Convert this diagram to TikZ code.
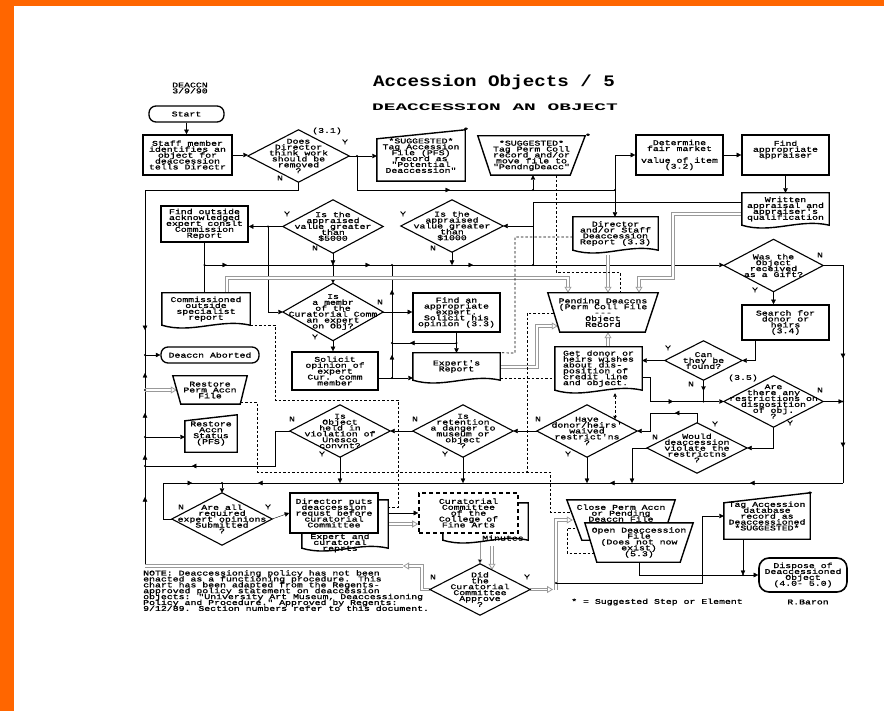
\documentclass[tikz,border=0pt]{standalone}
\usepackage{fontspec}
\usetikzlibrary{arrows.meta,calc,decorations.markings}
\newfontfamily\monotf[FakeStretch=1.35,FakeBold=1.2,Ligatures=TeXOff]{Liberation Mono}
\newfontfamily\monotitle[FakeStretch=1.2,Ligatures=TeXOff]{Liberation Mono}
\newfontfamily\monosub[FakeStretch=1.95,Ligatures=TeXOff]{Liberation Mono}
\newcommand\tfs{\monotf\fontsize{7.3}{5.9}\selectfont\lineskiplimit=-20pt\lineskip=0pt}
\newcommand\titlefs{\monotitle\bfseries\fontsize{16}{16}\selectfont}
\newcommand\subfs{\monosub\bfseries\fontsize{10}{10}\selectfont}
\definecolor{org}{HTML}{FF6600}
\pgfdeclarelayer{back}
\pgfdeclarelayer{bg}
\pgfsetlayers{back,bg,main}
\newcommand\drawdia[1]{\draw[shp] (#1.north) -- (#1.east) -- (#1.south) -- (#1.west) -- cycle;}
\newcommand\drawdoc[1]{\draw[thk] (#1.south west) -- (#1.north west) -- (#1.north east) -- (#1.south east) .. controls +(-30,-7) and +(30,9) .. (#1.south west) -- cycle;}
\newcommand\drawtrap[3]{\draw[thk] (#1.north west) -- (#1.north east) -- ($(#1.south east)+(-#2,0)$) -- ($(#1.south west)+(#3,0)$) -- cycle;}
\newcommand\drawslope[2]{\draw[thk] (#1.south west) -- ($(#1.north west)+(0,#2)$) -- (#1.north east) -- (#1.south east) -- cycle;}
\tikzset{
 txt/.style={font=\tfs, align=center, inner sep=0pt},
 lbl/.style={font=\tfs, inner sep=0pt},
 box/.style={txt, draw, line width=1.6pt, fill=white},
 term/.style={txt, draw, line width=1.3pt, rounded corners=7pt, fill=white},
 shp/.style={draw, line width=1.1pt, fill=white},
 thk/.style={draw, line width=1.4pt, fill=white},
 arr/.style={-{Triangle[length=4.5pt,width=4.5pt]}},
 marr/.style={postaction={decorate,decoration={markings,mark=at position #1 with {\arrow{Triangle[length=4.5pt,width=4.5pt]}}}}},
 dbl/.style={draw=gray!80, line width=0.8pt, double=white, double distance=1.5pt, -{Triangle[open,length=6pt,width=7pt]}},
 dbln/.style={draw=gray!80, line width=0.8pt, double=white, double distance=1.5pt},
 dsh/.style={line width=0.7pt, dash pattern=on 2.5pt off 2pt},
}
\begin{document}
\begin{tikzpicture}[x=1pt,y=-1pt,line width=0.8pt]
\useasboundingbox (0,0) rectangle (884,711);
\begin{pgfonlayer}{back}
 \fill[white] (0,0) rectangle (884,711);
 \fill[org] (0,0) rectangle (884,6);
 \fill[org] (0,0) rectangle (14,711);
\end{pgfonlayer}

% ---------- titles ----------
\node[txt] (deaccn) at (190,88) {DEACCN\\3/9/90};
\node[font=\titlefs,inner sep=0pt,anchor=base] (title) at (494,87) {Accession Objects / 5};
\node[font=\subfs,inner sep=0pt,anchor=base] (subtitle) at (495,111) {DEACCESSION AN OBJECT};

% ---------- nodes ----------
\node[term, minimum width=75pt, minimum height=16pt] (start) at (186.5,114) {Start};
\node[box, minimum width=89pt, minimum height=40pt] (staff) at (187.5,155) {Staff member\\identifies an\\object for\\deaccession\\tells Directr};
\node[txt, minimum width=101pt, minimum height=52pt] (does) at (298.5,156) {Does\\Director\\think work\\should be\\removed\\?};
\node[txt, minimum width=88pt, minimum height=51pt] (sugA) at (421,155.5) {*SUGGESTED*\\Tag Accession\\File (PFS)\\record as\\"Potential\\Deaccession"};
\node[txt, minimum width=107pt, minimum height=39pt] (sugB) at (531.5,155.5) {*SUGGESTED*\\Tag Perm Coll\\record and/or\\move file to\\"PendngDeacc"};
\node[box, minimum width=87pt, minimum height=40pt] (determine) at (679.5,155) {Determine\\fair market\\[5.9pt]value of item\\(3.2)};
\node[box, minimum width=87pt, minimum height=40pt] (findappr) at (785.5,155) {Find\\appropriate\\appraiser\\[5.9pt]~};
\node[txt, minimum width=87pt, minimum height=32pt] (written) at (785.5,209) {Written\\appraisal and\\appraiser's\\qualification};
\node[txt, minimum width=85pt, minimum height=33pt] (dirrep) at (615.5,233.5) {Director\\and/or Staff\\Deaccession\\Report (3.3)};
\node[txt, minimum width=100pt, minimum height=53pt] (d5000) at (333,226.5) {Is the\\appraised\\value greater\\than\\\$5000};
\node[txt, minimum width=102pt, minimum height=52pt] (d1000) at (452,226) {Is the\\appraised\\value greater\\than\\\$1000};
\node[box, minimum width=87pt, minimum height=36pt] (findout) at (204.5,224) {Find outside\\acknowledged\\expert conslt\\Commission\\Report};
\node[txt, minimum width=99pt, minimum height=52pt] (gift) at (773.5,265.5) {Was the\\Object\\received\\as a Gift?};
\node[txt, minimum width=88pt, minimum height=32pt] (commiss) at (206,309) {Commissioned\\outside\\specialist\\report};
\node[txt, minimum width=100pt, minimum height=57pt] (isamembr) at (333,312) {Is\\a membr\\of the\\Curatorial Comm\\an expert\\on Obj?};
\node[box, minimum width=87pt, minimum height=39pt] (findexp) at (456.5,312.5) {Find an\\appropriate\\expert.\\Solicit his\\opinion (3.3)};
\node[txt, minimum width=110pt, minimum height=39pt] (pending) at (603,312.5) {Pending Deaccns\\(Perm Coll File\\-{}-{}-\\Object\\Record};
\node[box, minimum width=87pt, minimum height=35pt] (search) at (785.5,322.5) {Search for\\donor or\\heirs\\(3.4)};
\node[txt, minimum width=77pt, minimum height=39pt] (can) at (703.5,360.5) {Can\\they be\\found?};
\node[box, minimum width=86pt, minimum height=38pt] (solicit) at (335,371) {Solicit\\opinion of\\expert\\Cur. comm\\member};
\node[txt, minimum width=87pt, minimum height=27pt] (expert) at (456.5,366.5) {Expert's\\Report};
\node[txt, align=left, minimum width=87pt, minimum height=43pt] (getdonor) at (598.5,368.5) {Get donor or\\heirs wishes\\about dis-\\position of\\credit line\\and object.};
\node[term, minimum width=98pt, minimum height=16pt] (aborted) at (210,355) {Deaccn Aborted};
\node[txt, minimum width=74pt, minimum height=28pt] (restperm) at (210,390) {Restore\\Perm Accn\\File};
\node[txt, minimum width=52pt, minimum height=37pt] (restacc) at (211,433.5) {Restore\\Accn\\Status\\(PFS)};
\node[txt, minimum width=100pt, minimum height=52pt] (unesco) at (340,431) {Is\\Object\\held in\\violation of\\Unesco\\convnt?};
\node[txt, minimum width=100pt, minimum height=52pt] (retention) at (463,431) {Is\\retention\\a danger to\\museum or\\object\\?};
\node[txt, minimum width=100pt, minimum height=52pt] (have) at (587,431) {Have\\donor/heirs'\\waived\\restrict'ns\\?};
\node[txt, minimum width=100pt, minimum height=50pt] (would) at (697,448) {Would\\deaccession\\violate the\\restrictns\\?};
\node[txt, minimum width=99pt, minimum height=51pt] (restrict) at (773.5,401.5) {Are\\there any\\restrictions on\\disposition\\of obj.\\?};
\node[txt, minimum width=100pt, minimum height=52pt] (areall) at (222,519) {Are all\\required\\expert opinions\\Submitted\\?};
\node[inner sep=0pt, minimum width=86pt, minimum height=48pt] (reprts) at (345,524) {};
\node[box, minimum width=88pt, minimum height=40pt] (director) at (334,513) {Director puts\\deaccession\\requst before\\curatorial\\Committee};
\node[txt] (reprtstxt) at (340,543) {Expert and\\curatoral\\reprts};
\node[inner sep=0pt, minimum width=85pt, minimum height=37pt] (minutes) at (485.5,521.5) {};
\node[box, dashed, dash pattern=on 4pt off 3pt, minimum width=99pt, minimum height=40pt] (curat) at (468.5,513) {Curatorial\\Committee\\of the\\College of\\Fine Arts};
\node[lbl] (minutestxt) at (503,538) {Minutes};
\node[txt, minimum width=100pt, minimum height=51pt] (approve) at (480,589.5) {Did\\the\\Curatorial\\Committee\\Approve\\?};
\node[txt, minimum width=108pt, minimum height=40pt] (close) at (621,520) {Close Perm Accn\\or Pending\\Deaccn File\\[8pt]~};
\node[txt, minimum width=108pt, minimum height=39pt] (open) at (639,542.5) {Open Deaccession\\File\\(Does not now\\exist)\\(5.3)};
\node[txt, minimum width=86pt, minimum height=46pt] (tagdb) at (767,516) {Tag Accession\\database\\record as\\Deaccessioned\\*SUGGESTED*};
\node[term, line width=1.6pt, rounded corners=10pt, minimum width=88pt, minimum height=34pt] (dispose) at (803,575) {Dispose of\\Deaccessioned\\Object\\(4.0- 5.0)};

% ---------- labels ----------
\node[lbl] (l31) at (327,131) {(3.1)};
\node[lbl] (l35) at (743,378) {(3.5)};
\node[lbl] (starA) at (466,130) {*};
\node[lbl] (starB) at (588,136) {*};
\node[lbl] (starC) at (810,494) {*};
\node[lbl] (yDoes) at (345,142) {Y};
\node[lbl] (nDoes) at (280,178) {N};
\node[lbl] (y5000) at (287,214) {Y};
\node[lbl] (n5000) at (315,248) {N};
\node[lbl] (y1000) at (403,214) {Y};
\node[lbl] (n1000) at (433,248) {N};
\node[lbl] (nGift) at (820,255) {N};
\node[lbl] (yGift) at (755,290) {Y};
\node[lbl] (nMem) at (380,302) {N};
\node[lbl] (yMem) at (315,337) {Y};
\node[lbl] (yCan) at (668,348) {Y};
\node[lbl] (nCan) at (691,384) {N};
\node[lbl] (nRes) at (820,390) {N};
\node[lbl] (yRes) at (790,423) {Y};
\node[lbl] (yWou) at (715,424) {Y};
\node[lbl] (nWou) at (655,437) {N};
\node[lbl] (nHav) at (538,419) {N};
\node[lbl] (yHav) at (568,454) {Y};
\node[lbl] (nRet) at (415,419) {N};
\node[lbl] (yRet) at (445,454) {Y};
\node[lbl] (nUne) at (292,419) {N};
\node[lbl] (yUne) at (322,454) {Y};
\node[lbl] (nAll) at (181,507) {N};
\node[lbl] (yAll) at (268,507) {Y};
\node[lbl] (nApp) at (433,577) {N};
\node[lbl] (yApp) at (527,577) {Y};
\node[lbl, anchor=north west, align=left] (note) at (143,570) {NOTE: Deaccessioning policy has not been\\enacted as a functioning procedure.  This\\chart has been adapted from the Regents-\\approved policy statement on deaccession\\objects: "University Art Museum, Deaccessioning\\Policy and Procedure." Approved by Regents:\\9/12/89. Section numbers refer to this document.};
\node[lbl] (legend) at (657,602) {* = Suggested Step or Element};
\node[lbl] (baron) at (808,602) {R.Baron};

% ---------- junction coordinates ----------
\coordinate (jY) at (357,156);
\coordinate (j190) at (357,190);
\coordinate (jB) at (533,190);
\coordinate (j615) at (615,190);
\coordinate (jDn) at (298.5,190);
\coordinate (jL190) at (145,190);
\coordinate (jAb) at (145,355);
\coordinate (jL390) at (145,390);
\coordinate (jL437) at (145,437);
\coordinate (jL466) at (145,466);
\coordinate (jL566) at (145,566);
\coordinate (jW1) at (533,202);
\coordinate (jW2) at (533,226);
\coordinate (jW3) at (533,265);
\coordinate (jF) at (268,226.5);
\coordinate (jF2) at (268,312);
\coordinate (j265l) at (204.5,265);
\coordinate (jm265) at (333,265);
\coordinate (j392t) at (392,265);
\coordinate (j392m) at (392,343);
\coordinate (j392b) at (392,378);
\coordinate (jfe) at (456.5,343);
\coordinate (jG1) at (843,265.5);
\coordinate (jG2) at (843,483);
\coordinate (jR) at (843,401.5);
\coordinate (jcan) at (703.5,401.5);
\coordinate (j650a) at (650,377);
\coordinate (j650b) at (650,401.5);
\coordinate (j697) at (697,413);
\coordinate (j650c) at (650,413);
\coordinate (j650d) at (650,431);
\coordinate (j632a) at (632,448);
\coordinate (j632b) at (632,483);
\coordinate (j222) at (222,483);
\coordinate (j163a) at (163,519);
\coordinate (j163b) at (163,483);
\coordinate (j275a) at (275,431);
\coordinate (j275b) at (275,466);
\coordinate (j422a) at (422,589.5);
\coordinate (j422b) at (422,566);
\coordinate (j403) at (403,566);
\coordinate (j556a) at (556,589.5);
\coordinate (j556b) at (556,520);
\coordinate (j556c) at (556,583);
\coordinate (j702a) at (702,583);
\coordinate (j702b) at (702,516);
\coordinate (jtag) at (743,575);
\coordinate (g1a) at (227,278);
\coordinate (g1b) at (568,278);
\coordinate (g3a) at (673,214);
\coordinate (g3b) at (673,278);
\coordinate (g3c) at (639,278);
\coordinate (g4a) at (537,367);
\coordinate (g4b) at (537,326);
\coordinate (d1a) at (556,272);
\coordinate (d1b) at (620,272);
\coordinate (d2a) at (515,237);
\coordinate (d2b) at (515,353);
\coordinate (d3a) at (275,325);
\coordinate (d3b) at (275,400);
\coordinate (d3c) at (398,400);
\coordinate (d3d) at (398,507);
\coordinate (d4a) at (257,402);
\coordinate (d4b) at (257,472);
\coordinate (d4c) at (550,472);
\coordinate (d4d) at (550,512);
\coordinate (d5a) at (527,313);
\coordinate (d5b) at (527,472);
\coordinate (d8a) at (567,528);
\coordinate (d8b) at (567,553);

\begin{pgfonlayer}{bg}
% ---------- connectors ----------
\draw[arr] (start.south) -- (start.south |- staff.north);
\draw[arr] (staff.east) -- (staff.east -| does.west);
\draw (does.east) -- (jY);
\draw[arr] (jY) -- (jY -| sugA.west);
\draw[marr=127pt] (jY) -- (j190) -- (j615);
\draw[arr] (jB) -- (jB |- sugB.south);
\draw[arr] (j615) |- (determine.west);
\draw[arr] (j615) -- (j615 |- dirrep.north);
\draw[arr] (determine.east) -- (findappr.west);
\draw[arr] (findappr.south) -- (written.north);
\draw ($(written.west)+(0,-7)$) -- (jW1) -- (jW3);
\draw[arr] (jW2) -- (jW2 -| d1000.east);
\draw[marr=301.5pt] (does.south) -- (jDn) -- (jL190) -- (jAb);
\draw[arr] (jAb) -- (jAb -| aborted.west);
\draw[marr=69pt, marr=111pt, marr=153pt, marr=193pt] (jL566) -- (jAb);
\draw[arr] (jL437) -- (jL437 -| restacc.west);
\draw[dbl] (jL390) -- ($(restperm.west)+(4,0)$);
\draw[marr=133pt] (unesco.west) -- (j275a) -- (j275b) -- (jL466);
\draw[arr] (d5000.west) -- (d5000.west -| findout.east);
\draw (jF) -- (jF2);
\draw[arr] (jF2) -- (isamembr.west);
\draw (findout.south) -- (j265l) -- (j265l |- commiss.north);
\draw[arr, marr=22.5pt, marr=165.5pt, marr=268.5pt] (j265l) -- (j265l -| gift.west);
\draw[arr] (d5000.south) -- (jm265);
\draw[arr] (jm265) -- (isamembr.north);
\draw[arr] (d1000.south) -- (d1000.south |- jm265);
\draw[arr] (isamembr.east) -- (isamembr.east -| findexp.west);
\draw[arr] (isamembr.south) -- (isamembr.south |- solicit.north);
\draw (findexp.south) -- (jfe);
\draw[arr] (jfe) -- (expert.north);
\draw[marr=46.5pt] (jfe) -- (j392m);
\draw[arr] ($(solicit.east)+(0,7)$) -- ($(expert.west)+(0,11.5)$);
\draw[marr=23pt, marr=88pt] (j392b) -- (j392t);
\draw[arr] (gift.south) -- (gift.south |- search.north);
\draw[marr=112.5pt, marr=201.5pt] (gift.east) -- (jG1) -- (jG2);
\draw[marr=93pt, marr=233pt, marr=585pt] (jG2) -- (j222);
\draw[arr] (restrict.east) -- (jR);
\draw[arr] ($(search.south)+(-30.5,0)$) |- (can.east);
\draw[arr] (can.west) -- (can.west -| getdonor.east);
\draw[marr=0.5] (can.south) -- (jcan);
\draw[arr, marr=55.5pt] ($(getdonor.east)+(0,8.5)$) -- (j650a) -- (j650b) -- (restrict.west);
\draw[arr] (restrict.south) |- (would.east);
\draw[arr, marr=32pt] (would.north) -- (j697) -- (j650c) -- (j650d) -- (have.east);
\draw[arr] (would.west) -- (j632a) -- (j632b);
\draw[arr] (have.west) -- (retention.east);
\draw[arr] (retention.west) -- (unesco.east);
\draw[arr] (have.south) -- (have.south |- j222);
\draw[arr] (retention.south) -- (retention.south |- j222);
\draw[arr] (unesco.south) -- (unesco.south |- j222);
\draw[marr=74pt] (areall.west) -- (j163a) -- (j163b) -- (j222);
\draw[arr] (j222) -- (areall.north);
\draw[arr] (areall.east) -- (director.west);
\draw[arr] (director.east) -- (director.east -| curat.west);
\draw[dbl] (reprts.east) -- (reprts.east -| curat.west);
\draw[draw=gray!80, -{Triangle[length=4.5pt,width=4.5pt,fill=black]}] (approve.north |- curat.south) -- (approve.north);
\draw[dbl] ($(minutes.south)+(6.5,6)$) -- ($(approve.north)+(12,6)$);
\draw[dbl] (approve.west) -- (j422a) -- (j422b) -- (j403);
\draw[dbln] (j403) -- (jL566);
\draw[dbl] (approve.east) -- ($(j556a)+(-3,0)$);
\draw[dbl] (j556a) -- (j556b) -- ($(close.west)+(6,0)$);
\draw (j556c) -- (j702a) -- (j702b);
\draw[arr] (j702b) -- (j702b -| tagdb.west);
\draw[arr] (open.south) |- (dispose.west);
\draw[arr] (jtag |- tagdb.south) -- (jtag);
% gray document flows
\draw[dbl] ($(commiss.north)+(21,0)$) -- (g1a) -- (g1b) -- (g1b |- pending.north);
\draw[dbl] ($(dirrep.south)+(-7.5,5)$) -- ($(pending.north)+(5,0)$);
\draw[dbl] ($(written.west)+(0,5)$) -- (g3a) -- (g3b) -- (g3c) -- (g3c |- pending.north);
\draw[dbl] ($(expert.east)+(0,0.5)$) -- (g4a) -- (g4b) -- ($(pending.west)+(10,13.5)$);
\draw[dbl] ($(getdonor.north)+(9.5,0)$) -- ($(pending.south)+(5,0)$);
% dashed links
\draw[dsh] ($(sugB.south)+(24.5,0)$) -- (d1a) -- (d1b) -- (d1b |- pending.north);
\draw[dsh] ($(dirrep.west)+(0,3.5)$) -- (d2a) -- (d2b) -- (expert.north east);
\draw[dsh] ($(commiss.east)+(0,16)$) -- (d3a) -- (d3b) -- (d3c) -- (d3d) -- (d3d -| reprts.east);
\draw[dsh] ($(restperm.east)+(-6.5,12)$) -- (d4a) -- (d4b) -- (d4c) -- (d4d) -- ($(close.west)+(3.6,-8)$);
\draw[dsh] ($(pending.west)+(6,0.5)$) -- (d5a) -- (d5b);
\draw[dsh] ($(expert.east)+(0,11.5)$) -- ($(getdonor.west)+(0,9.5)$);
\draw[dsh, {Triangle[length=3.5pt,width=3.5pt]}-{Triangle[length=3.5pt,width=3.5pt]}] ($(getdonor.south)+(16.5,3)$) -- ($(have.north)+(28,14.5)$);
\draw[dsh] ($(close.west)+(8.5,8)$) -- (d8a) -- (d8b) -- ($(open.west)+(9,10.5)$);
% junction dots
\foreach \p in {jY,jB,j615,jF,j265l,jm265,j392t,j392m,j392b,jfe,jW3,jR,jcan,j222,jL466,jL437,jL390,jAb,d5b,j556c,jtag}
  \fill (\p) circle (1.2pt);

% ---------- shapes ----------
\drawdia{does}
\drawdia{d5000}
\drawdia{d1000}
\drawdia{gift}
\drawdia{isamembr}
\drawdia{can}
\drawdia{unesco}
\drawdia{retention}
\drawdia{have}
\drawdia{would}
\drawdia{restrict}
\drawdia{areall}
\drawdia{approve}
\drawslope{sugA}{9}
\drawtrap{sugB}{15}{13}
\drawdoc{written}
\drawdoc{dirrep}
\drawdoc{commiss}
\drawdoc{expert}
\drawdoc{getdonor}
\drawdoc{reprts}
\drawdoc{minutes}
\drawtrap{pending}{13}{12}
\drawtrap{restperm}{7}{8}
\drawslope{restacc}{6}
\drawtrap{close}{13}{15}
\drawtrap{open}{13}{12}
\drawslope{tagdb}{10}
\end{pgfonlayer}
\end{tikzpicture}
\end{document}
